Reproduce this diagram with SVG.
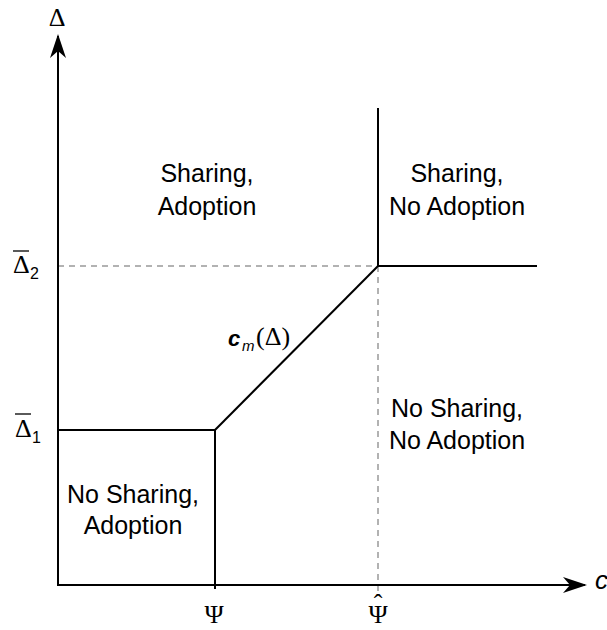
<svg xmlns="http://www.w3.org/2000/svg" width="607" height="630" viewBox="0 0 607 630">
<style>
.ax{stroke:#000;stroke-width:2;fill:none}
.ln{stroke:#000;stroke-width:2;fill:none}
.ds{stroke:#999;stroke-width:1.5;stroke-dasharray:6,5;fill:none}
.lb{font-family:"Liberation Sans",Arial,sans-serif;font-size:25px;fill:#000;text-anchor:middle}
.gk{font-family:"Liberation Serif","Times New Roman",serif;font-size:26px;fill:#000}
.sb{font-family:"Liberation Sans",Arial,sans-serif;font-size:16px;fill:#000}
</style>
<defs>
<marker id="ah2" viewBox="0 0 24 16" markerWidth="24" markerHeight="16" refX="22" refY="8" orient="auto" markerUnits="userSpaceOnUse">
<path d="M0,0 L24,8 L0,16 L7,8 Z" fill="#000"/>
</marker>
</defs>
<g id="connectors">
<line class="ds" x1="58" y1="266" x2="378" y2="266"/>
<line class="ds" x1="378" y1="266" x2="378" y2="594"/>
<line class="ax" x1="58" y1="586" x2="58" y2="36" marker-end="url(#ah2)"/>
<line class="ax" x1="57" y1="585" x2="585" y2="585" marker-end="url(#ah2)"/>
<polyline class="ln" points="58,430 215,430 215,589"/>
<line class="ln" x1="215" y1="430" x2="378" y2="266"/>
<line class="ln" x1="378" y1="108" x2="378" y2="266"/>
<line class="ln" x1="378" y1="266" x2="537" y2="266"/>
</g>
<g id="axis-labels">
<text class="gk" x="57" y="26" text-anchor="middle" font-size="27">Δ</text>
<text x="595" y="589" font-family="Liberation Sans,Arial,sans-serif" font-size="26" font-style="italic">c</text>
<text class="gk" x="214" y="623" text-anchor="middle" font-size="27">Ψ</text>
<text class="gk" x="378" y="623" text-anchor="middle" font-size="27">Ψ</text>
<text class="gk" x="378" y="612" text-anchor="middle" font-size="22">ˆ</text>
<g id="delta2"><text class="gk" x="13" y="273" font-size="23">Δ</text><line x1="13" y1="251" x2="29" y2="251" stroke="#000" stroke-width="1.3"/><text class="sb" x="30" y="279">2</text></g>
<g id="delta1"><text class="gk" x="15" y="437" font-size="23">Δ</text><line x1="15" y1="414" x2="31" y2="414" stroke="#000" stroke-width="1.3"/><text class="sb" x="32" y="443">1</text></g>
</g>
<g id="region-sa"><text class="lb" x="207" y="182">Sharing,</text><text class="lb" x="207" y="215">Adoption</text></g>
<g id="region-sna"><text class="lb" x="457" y="182">Sharing,</text><text class="lb" x="457" y="215">No Adoption</text></g>
<g id="region-nsna"><text class="lb" x="457" y="417">No Sharing,</text><text class="lb" x="457" y="449">No Adoption</text></g>
<g id="region-nsa"><text class="lb" x="133" y="503">No Sharing,</text><text class="lb" x="133" y="534">Adoption</text></g>
<g id="curve-label"><text x="228" y="346" font-family="Liberation Sans,Arial,sans-serif" font-size="22" font-style="italic" font-weight="bold">c</text><text x="242" y="351" font-family="Liberation Sans,Arial,sans-serif" font-size="15" font-style="italic">m</text><text class="gk" x="256" y="345" font-size="25">(Δ)</text></g>
</svg>
